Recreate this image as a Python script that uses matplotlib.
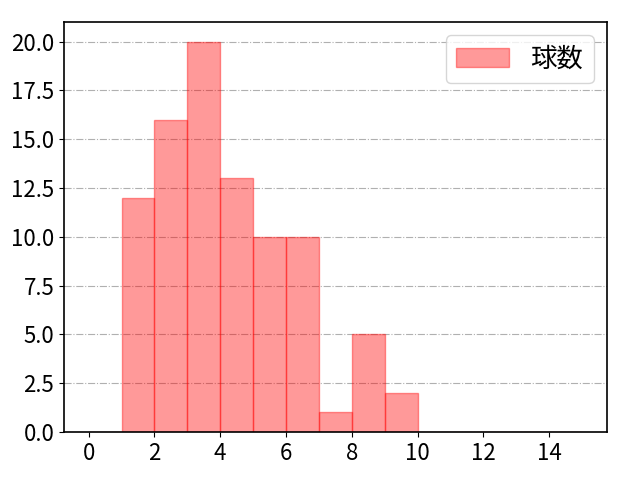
import numpy as np
from matplotlib import pyplot as plt

plt.rcParams['font.family'] = ['Noto Sans CJK JP', 'DejaVu Sans']
plt.rcParams['font.size'] = 16

bin_edges = np.arange(0, 16)
counts = [0, 12, 16, 20, 13, 10, 10, 1, 5, 2, 0, 0, 0, 0, 0]
label = '球数'

fig = plt.figure(figsize=(6.4, 4.8), dpi=100)
ax = fig.add_axes([0.1, 0.1, 0.848, 0.854])

ax.hist(bin_edges[:-1], bins=bin_edges, weights=counts,
        color='red', alpha=0.4, edgecolor='red', label=label)

ax.grid(axis='y', linestyle='-.', color='#b0b0b0')
ax.set_axisbelow(True)
ax.set_xticks(np.arange(0, 16, 2))
for s in ax.spines.values():
    s.set_linewidth(1.2)
ax.legend(loc='upper right', fontsize=19)

plt.savefig('out.png')
